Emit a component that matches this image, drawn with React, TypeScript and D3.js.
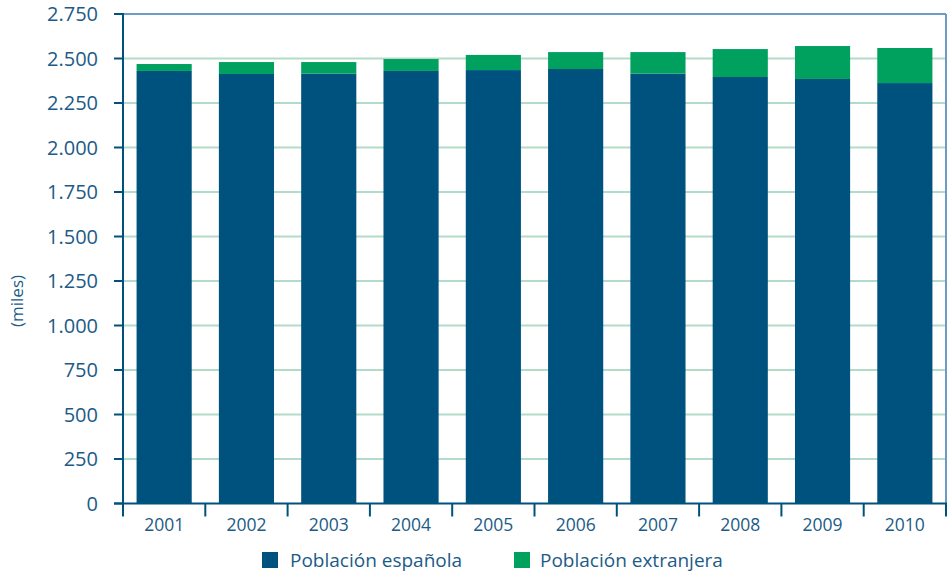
import React from "react";
import * as d3 from "d3";

const years = ["2001", "2002", "2003", "2004", "2005", "2006", "2007", "2008", "2009", "2010"];
const espanola = [2430, 2413, 2415, 2430, 2435, 2441, 2415, 2396, 2385, 2362];
const extranjera = [39, 67, 65, 67, 85, 95, 121, 157, 185, 197];
const yTicks = [0, 250, 500, 750, 1000, 1250, 1500, 1750, 2000, 2250, 2500, 2750];
const seriesNames = ["Población española", "Población extranjera"];

const W = 951;
const H = 579;
const left = 123;
const right = 946;
const top = 14;
const bottom = 503.5;
const BLUE = "#00527e";
const GREEN = "#00a05f";
const TEXT = "#1c5b87";
const FONT = "'Open Sans', 'Noto Sans', sans-serif";

const fmt = (v: number) => d3.format(",")(v).replace(/,/g, ".");

export default function App() {
  const x = d3.scaleBand<string>().domain(years).range([left, right]).paddingInner(0.33).paddingOuter(0.165);
  const xb = d3.scaleBand<string>().domain(years).range([left, right]);
  const y = d3.scaleLinear().domain([0, 2750]).range([bottom, top]);

  return (
    <svg width={W} height={H} style={{ position: "absolute", left: 0, top: 0 }}>
      {yTicks.slice(1, -1).map((t) => (
        <line key={"g" + t} x1={left} x2={right} y1={y(t)} y2={y(t)} stroke="#b3dcc8" strokeWidth={2} />
      ))}
      <line x1={left} x2={right} y1={y(2750)} y2={y(2750)} stroke="#6b9cc2" strokeWidth={2} />
      <line x1={right} x2={right} y1={top} y2={bottom} stroke="#6b9cc2" strokeWidth={2} />
      {years.map((yr, i) => (
        <g key={yr}>
          <rect x={x(yr)} width={x.bandwidth()} y={y(espanola[i])} height={y(0) - y(espanola[i])} fill={BLUE} />
          <rect
            x={x(yr)}
            width={x.bandwidth()}
            y={y(espanola[i] + extranjera[i])}
            height={y(espanola[i]) - y(espanola[i] + extranjera[i])}
            fill={GREEN}
          />
        </g>
      ))}
      <line x1={left} x2={left} y1={top - 1} y2={bottom + 13} stroke={BLUE} strokeWidth={2} />
      <line x1={114} x2={right + 1} y1={bottom} y2={bottom} stroke={BLUE} strokeWidth={2} />
      {yTicks.map((t) => (
        <g key={"t" + t}>
          <line x1={114} x2={left} y1={y(t)} y2={y(t)} stroke={BLUE} strokeWidth={2} />
          <text x={98} y={y(t)} dy="0.36em" textAnchor="end" fill={TEXT} fontFamily={FONT} fontSize={20}>
            {fmt(t)}
          </text>
        </g>
      ))}
      {years.map((yr) => (
        <g key={"x" + yr}>
          <line x1={(xb(yr) as number) + xb.bandwidth()} x2={(xb(yr) as number) + xb.bandwidth()} y1={bottom} y2={bottom + 13} stroke={BLUE} strokeWidth={2} />
          <text x={(xb(yr) as number) + xb.bandwidth() / 2} y={530.5} textAnchor="middle" fill={TEXT} fontFamily={FONT} fontSize={17.5}>
            {yr}
          </text>
        </g>
      ))}
      <text transform="translate(23,301) rotate(-90)" textAnchor="middle" fill={TEXT} fontFamily={FONT} fontSize={17}>
        (miles)
      </text>
      <rect x={262} y={552} width={16} height={16} fill={BLUE} />
      <text x={290} y={567} fill={TEXT} fontFamily={FONT} fontSize={19}>{seriesNames[0]}</text>
      <rect x={514} y={552} width={16} height={16} fill={GREEN} />
      <text x={540} y={567} fill={TEXT} fontFamily={FONT} fontSize={19}>{seriesNames[1]}</text>
    </svg>
  );
}
